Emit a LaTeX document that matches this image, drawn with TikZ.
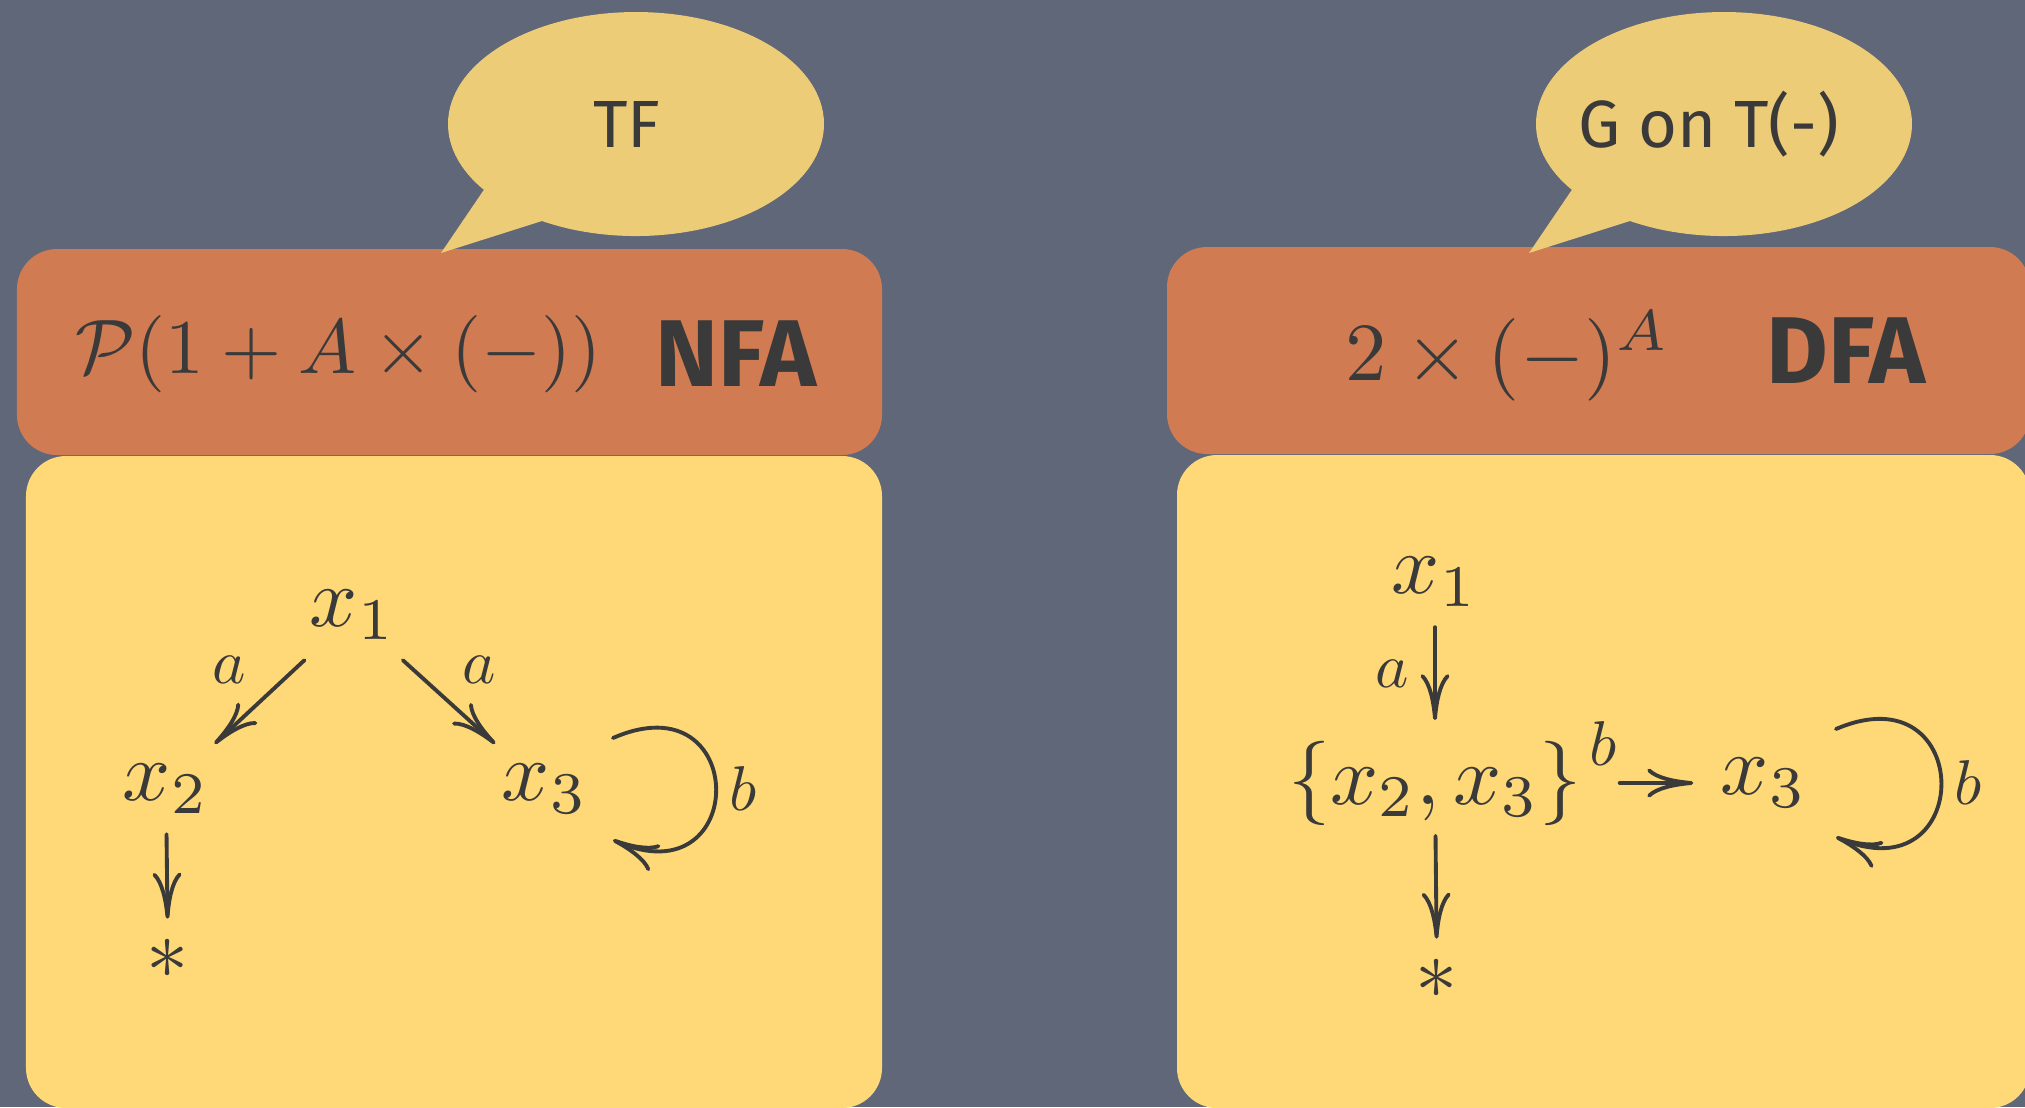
\documentclass[tikz,border=0pt]{standalone}
\usepackage{amsmath,amssymb,graphicx}
\usepackage{fontspec}
\newfontfamily\chalk{Fira Sans}
\newcommand{\smath}[2]{\scalebox{#1}{$#2$}}
\definecolor{Slate}{RGB}{96,103,120}
\definecolor{Rust}{RGB}{208,123,82}
\definecolor{Butter}{RGB}{255,217,120}
\definecolor{Bubble}{RGB}{237,204,120}
\definecolor{Ink}{RGB}{58,58,58}
\usetikzlibrary{arrows.meta,positioning,shapes.callouts}

\begin{document}
\begin{tikzpicture}[every node/.style={text=Ink},
  st/.style={inner sep=0.2cm},
  arr/.style={draw=Ink, line width=1.1pt, line cap=round, -{Computer Modern Rightarrow[length=4.6mm,width=2.9mm]}},
  hdr/.style={anchor=base},
  tag/.style={font=\chalk\bfseries\fontsize{27}{32}\selectfont, anchor=base},
  say/.style={ellipse callout, fill=Bubble, inner sep=0pt, minimum width=3.76cm, minimum height=2.24cm, callout pointer arc=24, font=\chalk\fontsize{19}{23}\selectfont}]
\useasboundingbox (0,0) rectangle (20.25,-11.07);
\fill[Slate] (0,0) rectangle (20.25,-11.07);
% panels
\fill[Rust, rounded corners=0.4cm] (0.17,-2.49) rectangle (8.82,-4.55);
\fill[Butter, rounded corners=0.4cm] (0.26,-4.56) rectangle (8.82,-11.08);
\fill[Rust, rounded corners=0.4cm] (11.67,-2.47) rectangle (20.30,-4.54);
\fill[Butter, rounded corners=0.4cm] (11.77,-4.55) rectangle (20.30,-11.08);
% speech bubbles
\node[say, callout absolute pointer={(4.41,-2.53)}] (tf) at (6.36,-1.24) {\makebox[0pt]{\hspace*{-1.8mm}\raisebox{-1.1mm}{TF}}};
\node[say, callout absolute pointer={(15.29,-2.53)}] (gon) at (17.24,-1.24) {\makebox[0pt]{\hspace*{-3mm}G on T(-)}};
% headers
\node[hdr] (fnfa) at (3.385,-3.73) {\smath{2.2}{\mathcal{P}(1+A\times(-))}};
\node[tag] (nfa) at (7.36,-3.86) {NFA};
\node[hdr] (fdfa) at (15.08,-3.80) {\smath{2.35}{2\times(-)^A}};
\node[tag] (dfa) at (18.46,-3.83) {DFA};
% NFA
\node[st] (x1) at (3.53,-6.15) {\smath{2.4}{x_1}};
\node[st] (x2) at (1.66,-7.89) {\smath{2.4}{x_2}};
\node[st] (x3) at (5.45,-7.89) {\smath{2.4}{x_3}};
\node[st] (n2) at (1.68,-9.59) {\smath{2.4}{*}};
\draw[arr] (x1) -- node[above left, yshift=0.05cm] {\smath{1.8}{a}} (x2);
\draw[arr] (x1) -- node[above right, yshift=0.05cm] {\smath{1.8}{a}} (x3);
\draw[arr] (x2) -- (n2);
\draw[arr] ([shift={(0.68,0.51)}]x3.center) .. controls +(1.37,0.6) and +(1.37,-0.6) .. ([shift={(0.68,-0.51)}]x3.center) node[midway, right] {\smath{1.8}{b}};
% DFA
\node[st] (y1) at (14.35,-5.82) {\smath{2.4}{x_1}};
\node[st] (y23) at (14.35,-7.83) {\smath{2.4}{\{x_2,x_3\}}};
\node[st] (y3) at (17.64,-7.83) {\smath{2.4}{x_3}};
\node[st] (n3) at (14.37,-9.79) {\smath{2.4}{*}};
\draw[arr] (y1) -- node[left, xshift=-0.12cm] {\smath{1.8}{a}} (y23);
\draw[arr, shorten <=0.17cm, shorten >=0.07cm] (y23) -- node[at start, above=1pt] {\smath{1.8}{b}} (y3);
\draw[arr, shorten <=-0.1cm] (y23) -- (n3);
\draw[arr] ([shift={(0.72,0.54)}]y3.center) .. controls +(1.4,0.6) and +(1.4,-0.6) .. ([shift={(0.72,-0.54)}]y3.center) node[midway, right] {\smath{1.8}{b}};
\end{tikzpicture}
\end{document}
